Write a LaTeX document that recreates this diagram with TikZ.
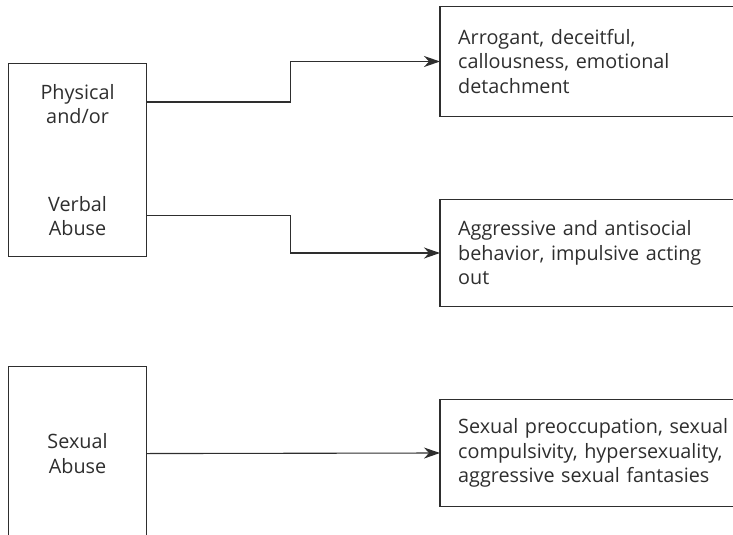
\documentclass[tikz,border=0pt]{standalone}
\usepackage{fontspec}
\setmainfont{Open Sans}[Ligatures=NoCommon]
\usetikzlibrary{arrows.meta,calc}
\definecolor{ink}{HTML}{2E2E2E}
\begin{document}
\begin{tikzpicture}[x=1pt,y=-1pt,
  box/.style={draw=ink,line width=1.1pt,text=ink,font=\fontsize{19.8}{24.5}\selectfont,inner sep=0pt},
  lbox/.style={box,minimum width=138pt,align=center,anchor=north west},
  rbox/.style={text=ink,font=\fontsize{19.8}{24.5}\selectfont,inner sep=0pt,align=left,text width=340pt,inner xsep=18pt,minimum height=109pt,anchor=west},
  edge3/.style={draw=ink,line width=1.1pt},
  arr/.style={draw=ink,line width=1.1pt,-{Stealth[length=16pt,width=11pt,inset=5pt]}}]
\useasboundingbox (0,0) rectangle (733,535);
\clip (0,0) rectangle (733,535);
\node[lbox,minimum height=193pt] (lb1) at (8,63) {Physical\\and/or\\[63pt]Verbal\\Abuse};
\node[lbox,minimum height=174pt] (lb2) at (8,366) {Sexual\\Abuse};
\node[rbox] (rb1) at (440,61.5) {Arrogant, deceitful,\\callousness, emotional\\detachment};
\node[rbox,minimum height=106pt] (rb2) at (440,253) {Aggressive and antisocial\\behavior, impulsive acting\\out};
\node[rbox,minimum height=106pt] (rb3) at (440,453) {Sexual preoccupation, sexual\\compulsivity, hypersexuality,\\aggressive sexual fantasies};
\foreach \b in {rb1,rb2,rb3}
  \draw[edge3] (\b.north east) -- (\b.north west) -- (\b.south west) -- (\b.south east);
\draw[arr] ([yshift=-39pt]lb1.north east) -- ++(143,0) |- (rb1.west);
\draw[arr] ([yshift=42pt]lb1.south east) -- ++(143,0) |- (rb2.west);
\draw[arr] (lb2.east) -- (rb3.west);
\end{tikzpicture}
\end{document}
